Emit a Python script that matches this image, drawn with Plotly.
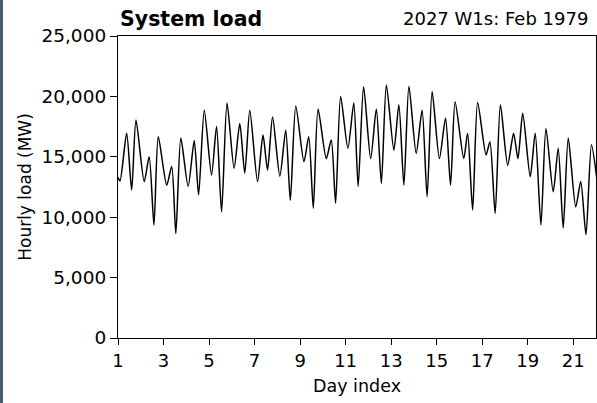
import plotly.graph_objects as go

# turning points of the hourly load trace (day index, MW)
day = [1.00, 1.09, 1.38, 1.60, 1.79, 2.15, 2.37, 2.58, 2.77, 3.14,
       3.36, 3.54, 3.76, 4.08, 4.35, 4.54, 4.79, 5.11, 5.33, 5.55,
       5.79, 6.10, 6.35, 6.57, 6.79, 7.13, 7.37, 7.57, 7.79, 8.11,
       8.37, 8.57, 8.81, 9.17, 9.38, 9.58, 9.79, 10.15, 10.37, 10.56,
       10.78, 11.10, 11.36, 11.55, 11.79, 12.10, 12.35, 12.57, 12.79, 13.12,
       13.34, 13.56, 13.78, 14.10, 14.36, 14.58, 14.80, 15.12, 15.39, 15.61,
       15.81, 16.19, 16.36, 16.58, 16.80, 17.17, 17.34, 17.57, 17.80, 18.12,
       18.38, 18.57, 18.78, 19.11, 19.33, 19.58, 19.80, 20.12, 20.34, 20.56,
       20.78, 21.11, 21.33, 21.56, 21.80, 22.05]
load = [13300, 13000, 16950, 12250, 18050, 12950, 15000, 9350, 16650, 12650,
        14200, 8650, 16550, 12550, 16350, 11850, 18850, 13500, 17500, 10450,
        19450, 14050, 17750, 13650, 18850, 12950, 16800, 13900, 18300, 13400,
        17200, 11400, 19200, 14600, 16650, 10750, 18950, 14850, 16400, 11150,
        20000, 15700, 19450, 12550, 20800, 14850, 18950, 12800, 20950, 15550,
        19300, 12650, 20850, 15300, 18850, 11700, 20400, 14850, 18200, 12650,
        19550, 14850, 16950, 10600, 19500, 15150, 16250, 10300, 19300, 14300,
        16950, 14850, 18600, 13350, 16950, 9350, 17350, 12100, 15700, 9100,
        16550, 10850, 12950, 8550, 16000, 13000]

x_ticks = [1, 3, 5, 7, 9, 11, 13, 15, 17, 19, 21]
y_ticks = [0, 5000, 10000, 15000, 20000, 25000]

fnt = "DejaVu Sans"

fig = go.Figure(go.Scatter(
    x=day, y=load, mode="lines",
    line=dict(color="black", width=1.5, shape="spline", smoothing=0.7),
    hoverinfo="skip",
))

fig.update_layout(
    width=597, height=403,
    margin=dict(l=118, r=1, t=36, b=65),
    paper_bgcolor="white", plot_bgcolor="white",
    showlegend=False,
    font=dict(family=fnt, color="black", size=17),
    annotations=[
        dict(text="<b>System load</b>", xref="paper", yref="paper",
             x=0.0, y=1.0, yshift=3, xanchor="left", yanchor="bottom",
             showarrow=False, font=dict(size=20.5, family=fnt)),
        dict(text="2027 W1s: Feb 1979", xref="paper", yref="paper",
             x=0.987, y=1.0, yshift=5, xanchor="right", yanchor="bottom",
             showarrow=False, font=dict(size=18, family=fnt)),
    ],
    shapes=[
        dict(type="rect", xref="paper", yref="paper",
             x0=-118 / 478, x1=-115 / 478, y0=-65 / 302, y1=1 + 36 / 302,
             fillcolor="#44606e", line=dict(width=0), layer="below"),
    ],
)

fig.update_xaxes(
    range=[1, 22], tickvals=x_ticks,
    showline=True, linecolor="black", linewidth=1.2, mirror=True,
    ticks="outside", ticklen=6, tickcolor="black",
    showgrid=False, zeroline=False, tickfont=dict(size=18),
    title=dict(text="Day index", font=dict(size=17.5), standoff=10),
)
fig.update_yaxes(
    range=[0, 25000], tickvals=y_ticks, tickformat=",d",
    showline=True, linecolor="black", linewidth=1.2, mirror=True,
    ticks="outside", ticklen=7, tickcolor="black",
    showgrid=False, zeroline=False, tickfont=dict(size=18.5),
    title=dict(text="Hourly load (MW)", font=dict(size=17), standoff=5),
)

fig.write_html("out.html", config={"displayModeBar": False},
               post_script="document.body.style.margin='0';")
